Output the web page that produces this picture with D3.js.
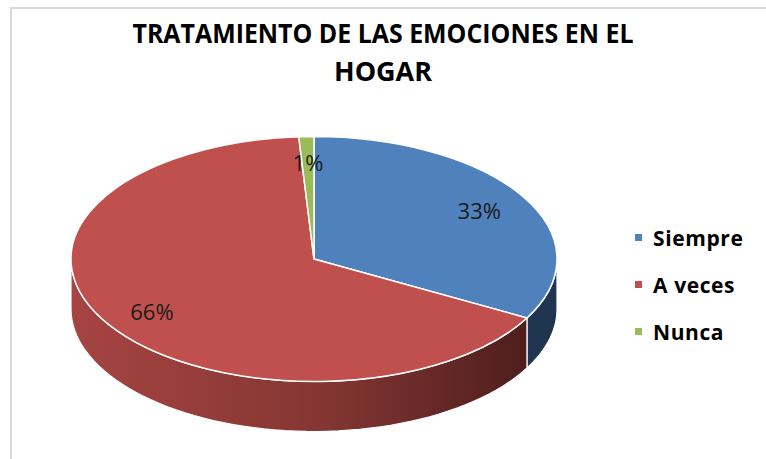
<!DOCTYPE html>
<html>
<head>
<meta charset="utf-8">
<script src="https://cdn.jsdelivr.net/npm/d3@7"></script>
<style>
  html, body { margin: 0; padding: 0; background: #fff; }
  svg { display: block; }
</style>
</head>
<body>
<div id="chart"></div>
<script>
// data
const categories = ["Siempre", "A veces", "Nunca"];
const values = [33, 66, 1];
const labels = ["33%", "66%", "1%"];
const colors = ["#4F81BD", "#C0504D", "#9BBB59"];
const sideColors = ["#1F3550", "url(#redSide)", "#4f6a2b"];
const titleLines = ["TRATAMIENTO DE LAS EMOCIONES EN EL", "HOGAR"];

const W = 766, H = 459;
const cx = 314, cy = 259, rx = 243, ry = 122.5, depth = 50;

const svg = d3.select("#chart").append("svg")
  .attr("width", W).attr("height", H)
  .attr("viewBox", "0 0 " + W + " " + H)
  .style("font-family", "'Open Sans', sans-serif");

// gradient for the red wall
const defs = svg.append("defs");
const grad = defs.append("linearGradient").attr("id", "redSide")
  .attr("gradientUnits", "userSpaceOnUse")
  .attr("x1", cx - rx).attr("x2", cx + rx * 0.88).attr("y1", 0).attr("y2", 0);
grad.append("stop").attr("offset", "0%").attr("stop-color", "#a64442");
grad.append("stop").attr("offset", "55%").attr("stop-color", "#843633");
grad.append("stop").attr("offset", "100%").attr("stop-color", "#4e1e1d");

// chart frame (only top/left edges inside the view)
svg.append("rect")
  .attr("x", 11).attr("y", 8).attr("width", 820).attr("height", 520)
  .attr("fill", "none").attr("stroke", "#d9d9d9").attr("stroke-width", 2);

// title
svg.append("g").selectAll("text").data(titleLines).join("text")
  .attr("x", 383)
  .attr("y", (d, i) => 43 + i * 38)
  .attr("text-anchor", "middle")
  .attr("font-size", 27)
  .attr("font-weight", "bold")
  .attr("fill", "#000")
  .attr("textLength", (d, i) => i === 0 ? 501 : 98)
  .attr("lengthAdjust", "spacingAndGlyphs")
  .text(d => d);

const pie = d3.pie().sort(null).startAngle(0).endAngle(2 * Math.PI);
const arcs = pie(values);

// projection of a pie angle onto the tilted ellipse
const pt = (a, dy = 0) => [cx + rx * Math.sin(a), cy - ry * Math.cos(a) + dy];

// outer walls, only the front half is visible
function wallPath(d) {
  const a0 = Math.max(d.startAngle, Math.PI / 2);
  const a1 = Math.min(d.endAngle, 3 * Math.PI / 2);
  if (a1 <= a0) return null;
  const n = 60, top = [], bottom = [];
  for (let i = 0; i <= n; i++) {
    const a = a0 + (a1 - a0) * i / n;
    top.push(pt(a));
    bottom.push(pt(a, depth));
  }
  const pts = top.concat(bottom.reverse());
  return "M" + pts.map(p => p[0].toFixed(2) + "," + p[1].toFixed(2)).join("L") + "Z";
}

svg.append("g").selectAll("path").data(arcs).join("path")
  .attr("d", wallPath)
  .attr("fill", (d, i) => sideColors[i])
  .attr("stroke", "#fff")
  .attr("stroke-width", 1.2)
  .attr("stroke-linejoin", "round");

// top face: a circular arc squeezed into the ellipse
const arc = d3.arc().innerRadius(0).outerRadius(rx);
svg.append("g")
  .attr("transform", "translate(" + cx + "," + cy + ") scale(1," + (ry / rx) + ")")
  .selectAll("path").data(arcs).join("path")
  .attr("d", arc)
  .attr("fill", (d, i) => colors[i])
  .attr("stroke", "#fff")
  .attr("stroke-width", 1.5)
  .attr("vector-effect", "non-scaling-stroke")
  .attr("stroke-linejoin", "round");

// percentage labels
svg.append("g").selectAll("text").data(arcs).join("text")
  .attr("x", d => cx + (pt((d.startAngle + d.endAngle) / 2)[0] - cx) * 0.79)
  .attr("y", d => cy + (pt((d.startAngle + d.endAngle) / 2)[1] - cy) * 0.79)
  .attr("text-anchor", "middle")
  .attr("dominant-baseline", "central")
  .attr("font-size", 22)
  .attr("fill", "#1a1a1a")
  .text((d, i) => labels[i]);

// legend
const legend = svg.append("g").selectAll("g").data(categories).join("g")
  .attr("transform", (d, i) => "translate(635," + (238 + i * 47) + ")");
legend.append("rect")
  .attr("x", 0).attr("y", -4).attr("width", 7).attr("height", 7)
  .attr("fill", (d, i) => colors[i]);
legend.append("text")
  .attr("x", 18).attr("y", 0)
  .attr("dominant-baseline", "central")
  .attr("font-size", 21)
  .attr("font-weight", "bold")
  .attr("letter-spacing", 0.6)
  .attr("fill", "#000")
  .text(d => d);
</script>
</body>
</html>
